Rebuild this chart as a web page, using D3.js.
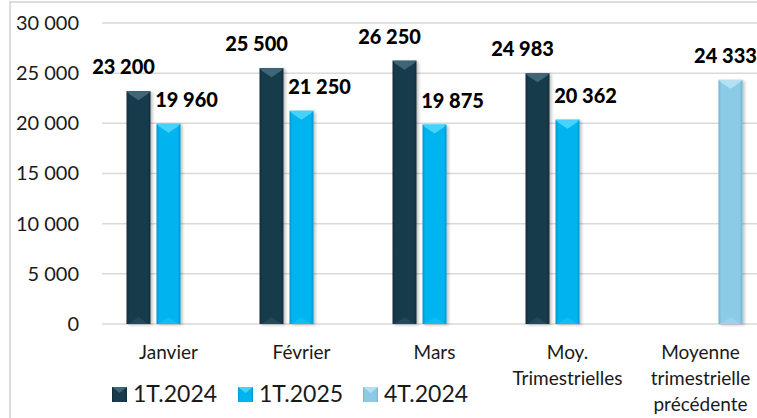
<!DOCTYPE html>
<html>
<head>
<meta charset="utf-8">
<script src="https://cdn.jsdelivr.net/npm/d3@7"></script>
<style>
  body { margin: 0; background: #fff; }
  svg { display: block; font-family: Lato, "Open Sans", sans-serif; }
</style>
</head>
<body>
<svg id="chart" width="757" height="418"></svg>
<script>
// data
const categories = ['Janvier', 'Février', 'Mars', 'Moy.\nTrimestrielles', 'Moyenne\ntrimestrielle\nprécédente'];
const seriesNames = ['1T.2024', '1T.2025', '4T.2024'];
const values2024 = [23200, 25500, 26250, 24983, null];
const values2025 = [19960, 21250, 19875, 20362, null];
const values4T = [null, null, null, null, 24333];
const yTicks = [0, 5000, 10000, 15000, 20000, 25000, 30000];

const seriesValues = [values2024, values2025, values4T];
const colors = [
    { base: '#173a4c', edge: '#0f2a38', top: '#3f6677', bottom: '#22485a' },
    { base: '#00b4ef', edge: '#0096cc', top: '#45d2fb', bottom: '#10bdf2' },
    { base: '#8ccbe6', edge: '#6fb4d2', top: '#b4e0f2', bottom: '#9ad3ea' }
];
// label nudges per series (the source chart has them slightly off-centre)
const labelDx = [-15, 18, -5];

const svg = d3.select('#chart');
const width = 757, height = 418;

// outer frame
svg.append('rect')
    .attr('x', 10).attr('y', 2)
    .attr('width', width + 10).attr('height', height + 10)
    .attr('fill', 'none').attr('stroke', '#dcdcdc').attr('stroke-width', 2);

const x0 = d3.scaleBand().domain(categories).range([102, 767]).padding(0);
const x1 = d3.scaleBand().domain([0, 1, 2]).range([0, x0.bandwidth()])
    .paddingInner(0.2).paddingOuter(0.817);
const y = d3.scaleLinear().domain([0, 30000]).range([324, 23]);

const fmt = v => d3.format(',')(v).replace(/,/g, ' ');

// gradients for the bevelled bars
const defs = svg.append('defs');
colors.forEach((c, i) => {
    const g = defs.append('linearGradient').attr('id', 'g' + i)
        .attr('x1', 0).attr('x2', 1).attr('y1', 0).attr('y2', 0);
    g.append('stop').attr('offset', 0).attr('stop-color', c.edge);
    g.append('stop').attr('offset', 0.12).attr('stop-color', c.base);
    g.append('stop').attr('offset', 0.88).attr('stop-color', c.base);
    g.append('stop').attr('offset', 1).attr('stop-color', c.edge);
});
const shadow = defs.append('filter').attr('id', 'shadow')
    .attr('x', -0.3).attr('y', -0.1).attr('width', 1.6).attr('height', 1.2);
shadow.append('feDropShadow').attr('dx', 2).attr('dy', 1).attr('stdDeviation', 1.5)
    .attr('flood-color', '#000').attr('flood-opacity', 0.25);

// gridlines
svg.append('g').selectAll('line').data(yTicks).join('line')
    .attr('x1', 102).attr('x2', width)
    .attr('y1', d => y(d)).attr('y2', d => y(d))
    .attr('stroke', '#d9d9d9').attr('stroke-width', 1.5);

// y axis labels
const yAxis = svg.append('g').attr('transform', 'translate(79,0)')
    .call(d3.axisLeft(y).tickValues(yTicks).tickFormat(fmt).tickSize(0).tickPadding(0));
yAxis.select('.domain').remove();
yAxis.selectAll('text')
    .attr('font-family', 'Lato, sans-serif')
    .attr('font-size', 20).attr('fill', '#1a1a1a');

// bars
const bars = [];
seriesValues.forEach((vals, s) => {
    vals.forEach((v, i) => {
        if (v != null) bars.push({ s, cat: categories[i], v });
    });
});

const bw = x1.bandwidth();
const barG = svg.append('g').selectAll('g').data(bars).join('g')
    .attr('transform', d => `translate(${x0(d.cat) + x1(d.s)},0)`);

barG.append('rect')
    .attr('y', d => y(d.v)).attr('width', bw)
    .attr('height', d => y(0) - y(d.v))
    .attr('fill', d => `url(#g${d.s})`)
    .attr('filter', 'url(#shadow)');
// top chevron
barG.append('path')
    .attr('d', d => `M0,${y(d.v)} L${bw},${y(d.v)} L${bw - 3},${y(d.v) + 3} L${bw / 2},${y(d.v) + 9} L3,${y(d.v) + 3} Z`)
    .attr('fill', d => colors[d.s].top);
// bottom bevel
barG.append('path')
    .attr('d', d => `M2,${y(0)} L${bw / 2},${y(0) - 7} L${bw - 2},${y(0)} Z`)
    .attr('fill', d => colors[d.s].bottom);

// value labels
svg.append('g').selectAll('text').data(bars).join('text')
    .attr('x', d => x0(d.cat) + x1(d.s) + bw / 2 + labelDx[d.s])
    .attr('y', d => y(d.v) - 17)
    .attr('text-anchor', 'middle')
    .attr('font-size', 20).attr('font-weight', 900).attr('fill', '#000')
    .text(d => fmt(d.v));

// category labels
const catG = svg.append('g').selectAll('text').data(categories).join('text')
    .attr('x', d => x0(d) + x0.bandwidth() / 2)
    .attr('y', 359)
    .attr('text-anchor', 'middle')
    .attr('font-size', 19).attr('fill', '#1a1a1a');
catG.selectAll('tspan').data(d => d.split('\n')).join('tspan')
    .attr('x', function () { return d3.select(this.parentNode).attr('x'); })
    .attr('dy', (d, i) => i === 0 ? 0 : 26)
    .text(d => d);

// legend
const legendX = [112, 238, 363];
const leg = svg.append('g').selectAll('g').data(seriesNames).join('g')
    .attr('transform', (d, i) => `translate(${legendX[i]},387)`);
leg.append('rect').attr('width', 15).attr('height', 15)
    .attr('fill', (d, i) => `url(#g${i})`);
leg.append('path').attr('d', 'M0,0 L15,0 L7.5,6 Z')
    .attr('fill', (d, i) => colors[i].top);
leg.append('text').attr('x', 21).attr('y', 15)
    .attr('font-size', 23).attr('fill', '#1a1a1a')
    .text(d => d);
</script>
</body>
</html>
